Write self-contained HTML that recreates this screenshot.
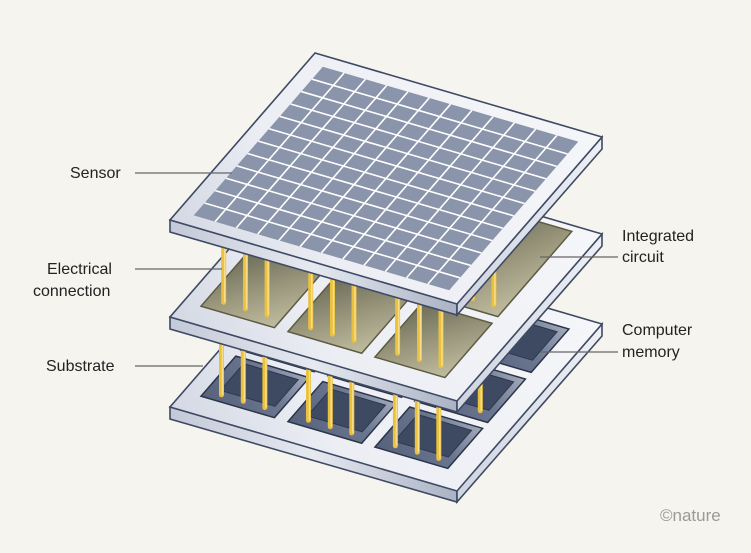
<!DOCTYPE html>
<html><head><meta charset="utf-8"><style>
html,body{margin:0;padding:0;background:#f5f4ee;}
svg{display:block}
text{font-family:"Liberation Sans",sans-serif;font-size:16px;fill:#222;}
</style></head><body>
<svg width="751" height="553" viewBox="0 0 751 553" xmlns="http://www.w3.org/2000/svg">
<defs>
<linearGradient id="pf" x1="0" y1="1" x2="1" y2="0">
<stop offset="0" stop-color="#d3d8e3"/><stop offset="0.3" stop-color="#eceef4"/><stop offset="1" stop-color="#f5f6f9"/></linearGradient>
<linearGradient id="sl" x1="0" y1="0" x2="1" y2="0">
<stop offset="0" stop-color="#c3c9d7"/><stop offset="0.5" stop-color="#e6e9f0"/><stop offset="1" stop-color="#aab2c4"/></linearGradient>
<linearGradient id="sr" x1="0" y1="0" x2="1" y2="0">
<stop offset="0" stop-color="#cfd4e0"/><stop offset="1" stop-color="#eef0f5"/></linearGradient>
<linearGradient id="ic" x1="0" y1="0" x2="1" y2="1">
<stop offset="0" stop-color="#6c6c58"/><stop offset="0.5" stop-color="#98957b"/><stop offset="1" stop-color="#bfbc9f"/></linearGradient>
<linearGradient id="mem" x1="0" y1="1" x2="1" y2="0">
<stop offset="0" stop-color="#56627a"/><stop offset="0.6" stop-color="#6a7690"/><stop offset="1" stop-color="#a3abbd"/></linearGradient>
</defs>

<!-- BOTTOM PLATE -->
<polygon points="170,407 457,490 457,502 170,419" fill="url(#sl)" stroke="#3e4a64" stroke-width="1.6"/>
<polygon points="457,490 602,324 602,336 457,502" fill="url(#sr)" stroke="#3e4a64" stroke-width="1.6"/>
<g transform="matrix(287 84 -145 167 315 240)">
<polygon points="0,0 1,0 1,1 0,1" fill="url(#pf)" stroke="#3e4a64" stroke-width="1.6" vector-effect="non-scaling-stroke"/>
<g fill="url(#mem)" stroke="#2b3448" stroke-width="1.5">
<polygon vector-effect="non-scaling-stroke" points="0.06,0.07 0.316,0.07 0.316,0.33 0.06,0.33"/>
<polygon vector-effect="non-scaling-stroke" points="0.363,0.07 0.62,0.07 0.62,0.33 0.363,0.33"/>
<polygon vector-effect="non-scaling-stroke" points="0.666,0.07 0.92,0.07 0.92,0.33 0.666,0.33"/>
<polygon vector-effect="non-scaling-stroke" points="0.06,0.37 0.316,0.37 0.316,0.63 0.06,0.63"/>
<polygon vector-effect="non-scaling-stroke" points="0.363,0.37 0.62,0.37 0.62,0.63 0.363,0.63"/>
<polygon vector-effect="non-scaling-stroke" points="0.666,0.37 0.92,0.37 0.92,0.63 0.666,0.63"/>
<polygon vector-effect="non-scaling-stroke" points="0.06,0.665 0.316,0.665 0.316,0.905 0.06,0.905"/>
<polygon vector-effect="non-scaling-stroke" points="0.363,0.665 0.62,0.665 0.62,0.905 0.363,0.905"/>
<polygon vector-effect="non-scaling-stroke" points="0.666,0.665 0.92,0.665 0.92,0.905 0.666,0.905"/>
</g>
<g fill="#3e4a62" stroke="#2e384c" stroke-width="1">
<polygon vector-effect="non-scaling-stroke" points="0.1,0.1 0.29,0.1 0.29,0.27 0.1,0.27"/>
<polygon vector-effect="non-scaling-stroke" points="0.403,0.1 0.594,0.1 0.594,0.27 0.403,0.27"/>
<polygon vector-effect="non-scaling-stroke" points="0.706,0.1 0.894,0.1 0.894,0.27 0.706,0.27"/>
<polygon vector-effect="non-scaling-stroke" points="0.1,0.4 0.29,0.4 0.29,0.57 0.1,0.57"/>
<polygon vector-effect="non-scaling-stroke" points="0.403,0.4 0.594,0.4 0.594,0.57 0.403,0.57"/>
<polygon vector-effect="non-scaling-stroke" points="0.706,0.4 0.894,0.4 0.894,0.57 0.706,0.57"/>
<polygon vector-effect="non-scaling-stroke" points="0.1,0.69 0.29,0.69 0.29,0.85 0.1,0.85"/>
<polygon vector-effect="non-scaling-stroke" points="0.403,0.69 0.594,0.69 0.594,0.85 0.403,0.85"/>
<polygon vector-effect="non-scaling-stroke" points="0.706,0.69 0.894,0.69 0.894,0.85 0.706,0.85"/>
</g>
</g>
<!-- bottom pins -->
<g stroke="#e9c040" stroke-width="5" stroke-linecap="round">
<path id="bp" d="M263,347v-85M284.8,353.5v-85M306.4,359.8v-85M350,372.5v-85M371.8,378.9v-85M393.3,385.2v-85M436.9,398v-85M458.8,404.4v-85M480.3,410.7v-85M221.5,394.9v-85M243.3,401.3v-85M264.9,407.6v-85M308.5,420.3v-85M330.3,426.7v-85M351.8,433v-85M395.4,445.8v-85M417.3,452.2v-85M438.8,458.5v-85"/>
</g>
<g stroke="#f8de86" stroke-width="1.5" transform="translate(1,0)">
<path d="M263,347v-85M284.8,353.5v-85M306.4,359.8v-85M350,372.5v-85M371.8,378.9v-85M393.3,385.2v-85M436.9,398v-85M458.8,404.4v-85M480.3,410.7v-85M221.5,394.9v-85M243.3,401.3v-85M264.9,407.6v-85M308.5,420.3v-85M330.3,426.7v-85M351.8,433v-85M395.4,445.8v-85M417.3,452.2v-85M438.8,458.5v-85"/>
</g>

<!-- MIDDLE PLATE -->
<polygon points="170,317 457,400 457,412 170,329" fill="url(#sl)" stroke="#3e4a64" stroke-width="1.6"/>
<polygon points="457,400 602,234 602,246 457,412" fill="url(#sr)" stroke="#3e4a64" stroke-width="1.6"/>
<g transform="matrix(287 84 -145 167 315 150)">
<polygon points="0,0 1,0 1,1 0,1" fill="url(#pf)" stroke="#3e4a64" stroke-width="1.6" vector-effect="non-scaling-stroke"/>
<g fill="url(#ic)" stroke="#5d5b42" stroke-width="1.5">
<polygon vector-effect="non-scaling-stroke" points="0.06,0.03 0.316,0.03 0.316,0.54 0.06,0.54"/>
<polygon vector-effect="non-scaling-stroke" points="0.363,0.03 0.62,0.03 0.62,0.54 0.363,0.54"/>
<polygon vector-effect="non-scaling-stroke" points="0.666,0.03 0.91,0.03 0.91,0.54 0.666,0.54"/>
<polygon vector-effect="non-scaling-stroke" points="0.06,0.58 0.316,0.58 0.316,0.905 0.06,0.905"/>
<polygon vector-effect="non-scaling-stroke" points="0.363,0.58 0.62,0.58 0.62,0.905 0.363,0.905"/>
<polygon vector-effect="non-scaling-stroke" points="0.666,0.58 0.91,0.58 0.91,0.905 0.666,0.905"/>
</g>
</g>
<!-- middle pins -->
<g stroke="#e9c040" stroke-width="5" stroke-linecap="round">
<path d="M276.6,241.4v-85M298.4,247.8v-85M320,254.1v-85M363.6,266.8v-85M385.4,273.2v-85M406.9,279.5v-85M450.5,292.3v-85M472.4,298.7v-85M493.9,305v-85M223.7,302.4v-85M245.5,308.8v-85M267.1,315.1v-85M310.7,327.8v-85M332.5,334.2v-85M354,340.5v-85M397.6,353.3v-85M419.5,359.7v-85M441,366v-85"/>
</g>
<g stroke="#f8de86" stroke-width="1.5" transform="translate(1,0)">
<path d="M276.6,241.4v-85M298.4,247.8v-85M320,254.1v-85M363.6,266.8v-85M385.4,273.2v-85M406.9,279.5v-85M450.5,292.3v-85M472.4,298.7v-85M493.9,305v-85M223.7,302.4v-85M245.5,308.8v-85M267.1,315.1v-85M310.7,327.8v-85M332.5,334.2v-85M354,340.5v-85M397.6,353.3v-85M419.5,359.7v-85M441,366v-85"/>
</g>

<!-- SENSOR PLATE -->
<polygon points="170,220 457,303 457,315 170,232" fill="url(#sl)" stroke="#3e4a64" stroke-width="1.6"/>
<polygon points="457,303 602,137 602,149 457,315" fill="url(#sr)" stroke="#3e4a64" stroke-width="1.6"/>
<g transform="matrix(287 84 -145 167 315 53)">
<polygon points="0,0 1,0 1,1 0,1" fill="url(#pf)" stroke="#3e4a64" stroke-width="1.6" vector-effect="non-scaling-stroke"/>
<polygon points="0.055,0.055 0.945,0.055 0.945,0.945 0.055,0.945" fill="#8a94aa"/>
<g stroke="#ffffff" stroke-width="1.6">
<path vector-effect="non-scaling-stroke" d="M0.1292,0.055V0.945M0.2033,0.055V0.945M0.2775,0.055V0.945M0.3517,0.055V0.945M0.4258,0.055V0.945M0.5,0.055V0.945M0.5742,0.055V0.945M0.6483,0.055V0.945M0.7225,0.055V0.945M0.7967,0.055V0.945M0.8708,0.055V0.945"/>
<path vector-effect="non-scaling-stroke" d="M0.055,0.1292H0.945M0.055,0.2033H0.945M0.055,0.2775H0.945M0.055,0.3517H0.945M0.055,0.4258H0.945M0.055,0.5H0.945M0.055,0.5742H0.945M0.055,0.6483H0.945M0.055,0.7225H0.945M0.055,0.7967H0.945M0.055,0.8708H0.945"/>
</g>
</g>

<!-- leader lines -->
<g stroke="#666" stroke-width="1.2">
<line x1="135" y1="173" x2="232" y2="173"/>
<line x1="135" y1="269" x2="222" y2="269"/>
<line x1="135" y1="366" x2="203" y2="366"/>
<line x1="540" y1="257" x2="618" y2="257"/>
<line x1="540" y1="352" x2="618" y2="352"/>
</g>
<text x="70" y="178">Sensor</text>
<text x="47" y="274">Electrical</text>
<text x="33" y="296">connection</text>
<text x="46" y="371">Substrate</text>
<text x="622" y="241">Integrated</text>
<text x="622" y="262">circuit</text>
<text x="622" y="335">Computer</text>
<text x="622" y="357">memory</text>
<text x="660" y="521" style="font-size:17px;fill:#9a9a96">©nature</text>
</svg>
</body></html>
